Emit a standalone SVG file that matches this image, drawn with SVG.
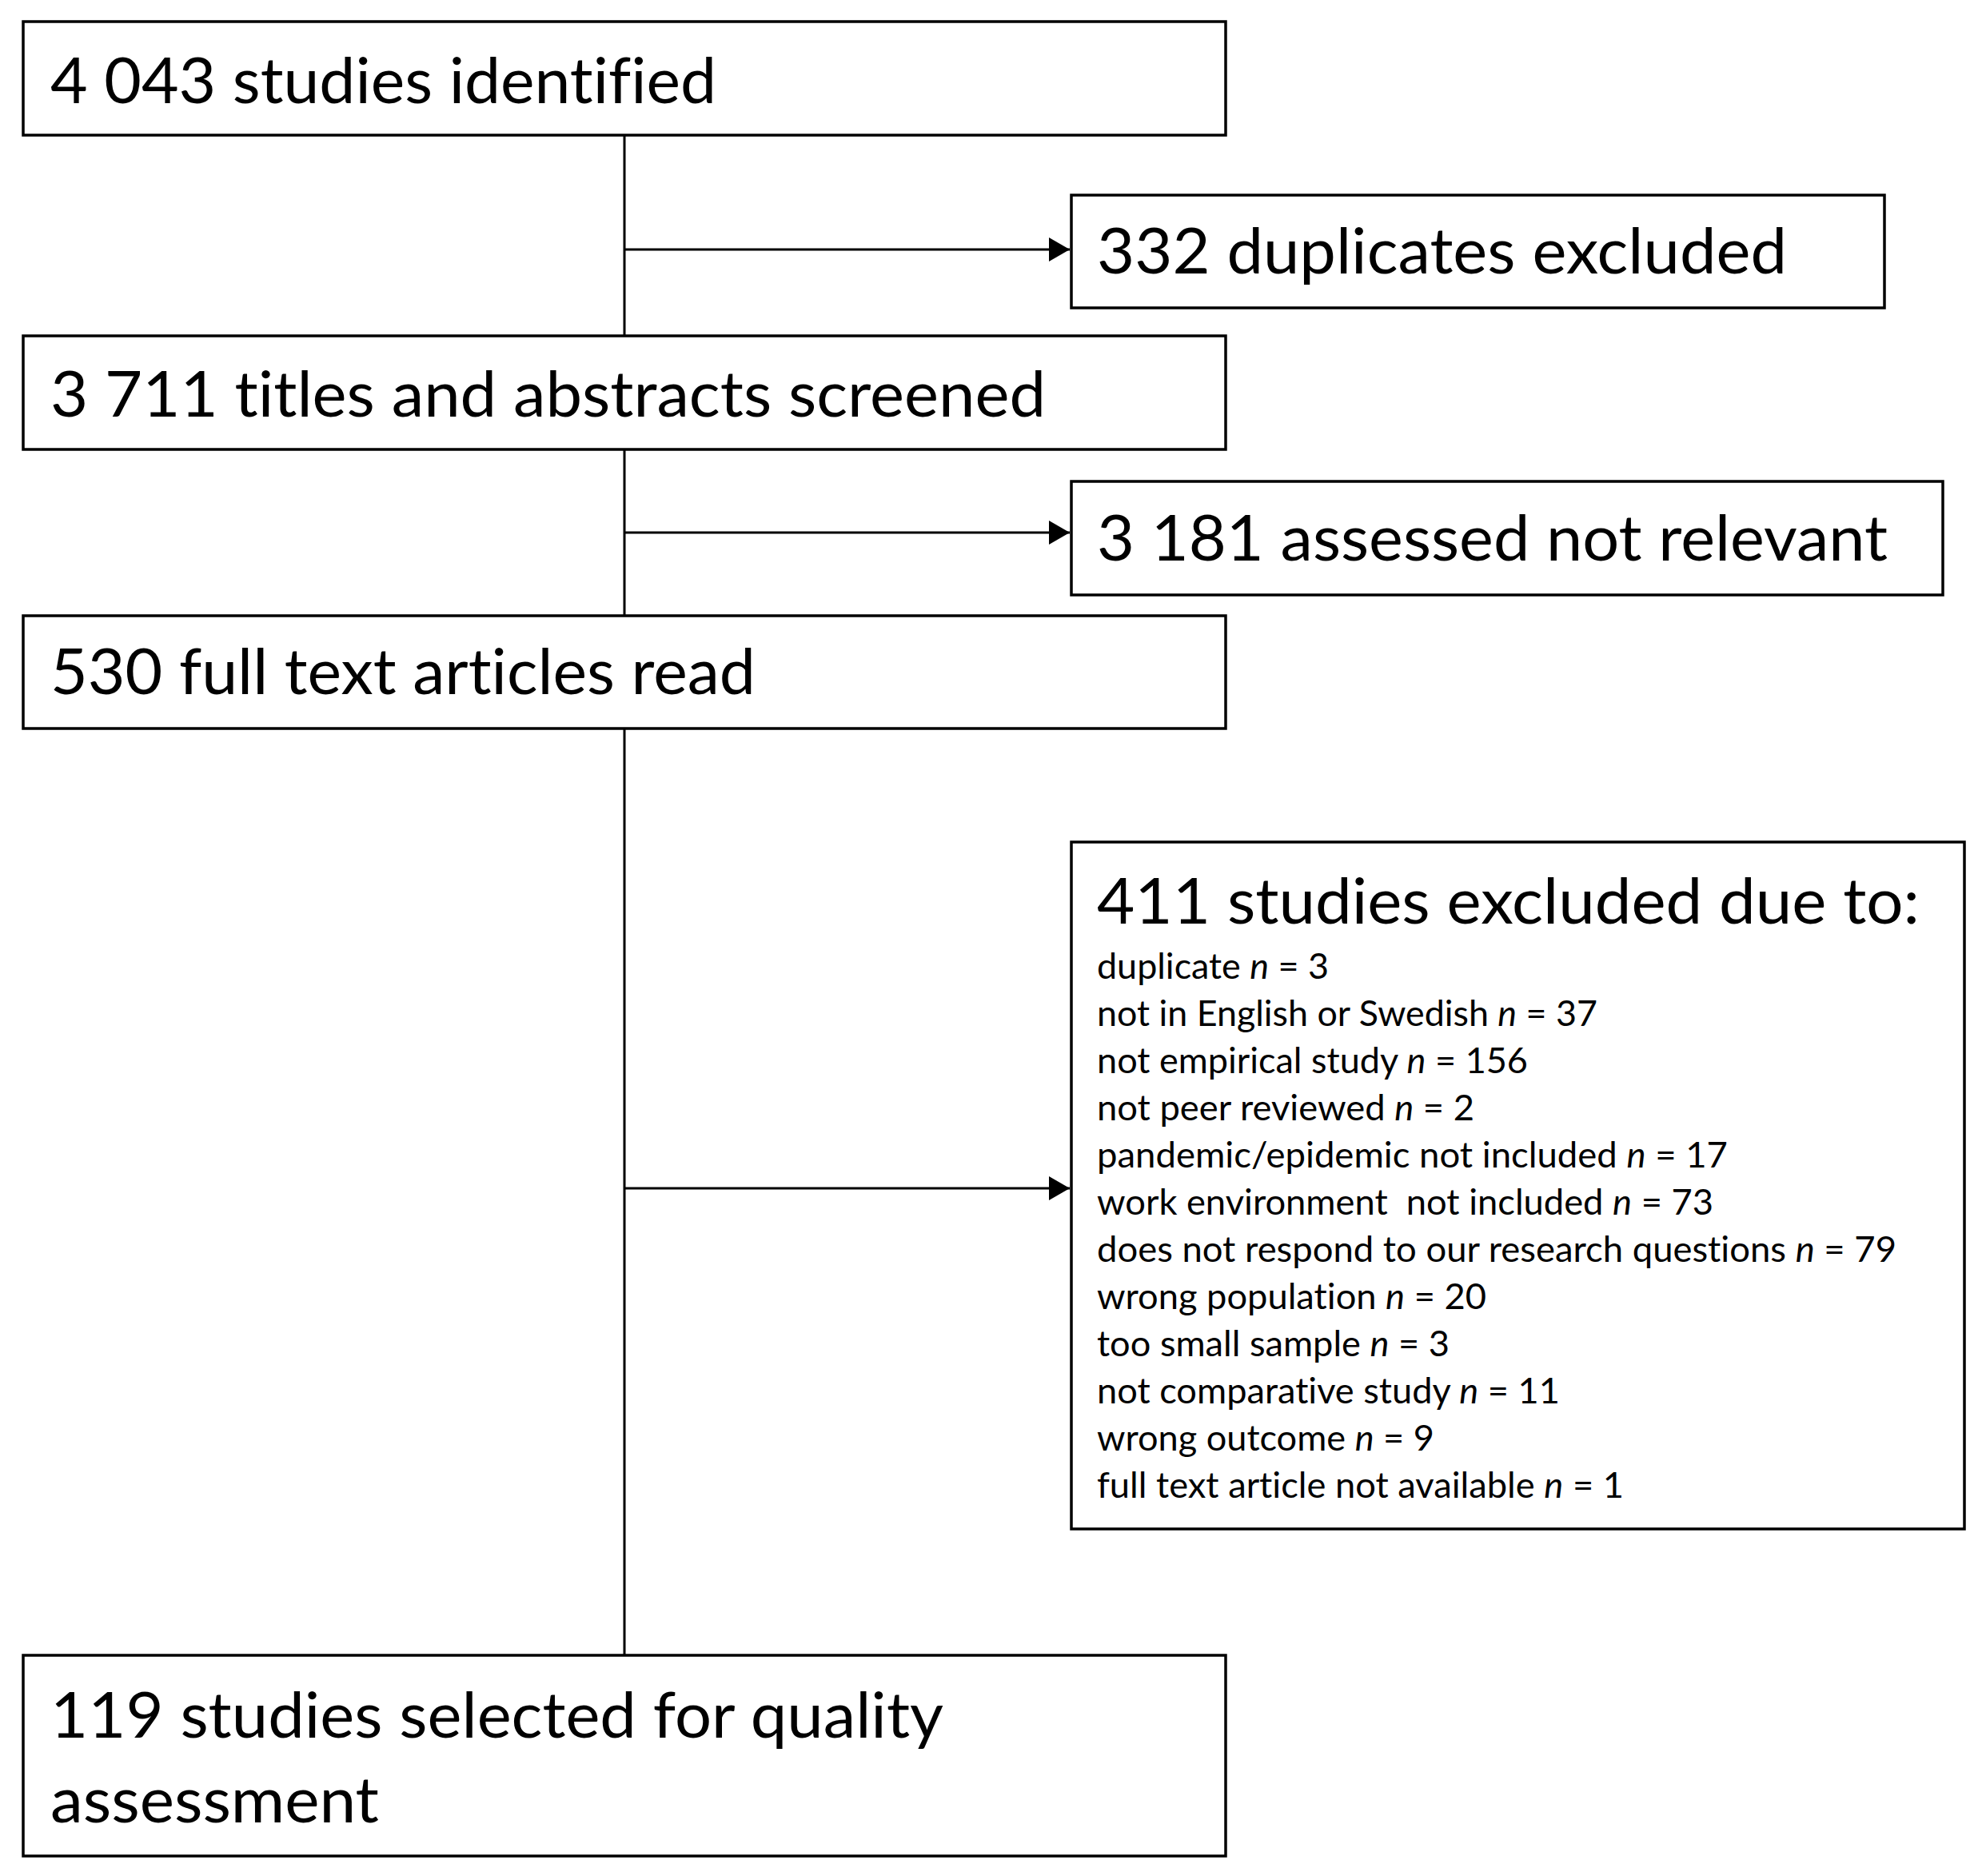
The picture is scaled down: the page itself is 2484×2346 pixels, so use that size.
<svg xmlns="http://www.w3.org/2000/svg" width="2484" height="2346" viewBox="0 0 2484 2346">
<style>
.box{fill:#fff;stroke:#000;stroke-width:3.5}
.big{font-family:Lato,"Open Sans","Liberation Sans",sans-serif;font-size:80px;fill:#000;font-variant-ligatures:none}
.sm{font-family:Lato,"Open Sans","Liberation Sans",sans-serif;font-size:44px;fill:#000;font-variant-ligatures:none}
.it{font-style:italic}
.conn{stroke:#000;stroke-width:3;fill:none}
</style>
<defs>
<marker id="arr" markerUnits="userSpaceOnUse" markerWidth="27" markerHeight="30" refX="26" refY="15" orient="auto">
<path d="M0,0 L26,15 L0,30 z" fill="#000"/>
</marker>
</defs>
<rect width="2484" height="2346" fill="#fff"/>
<g id="connectors">
<line class="conn" x1="781" y1="169" x2="781" y2="2070"/>
<line class="conn" x1="781" y1="312" x2="1338" y2="312" marker-end="url(#arr)"/>
<line class="conn" x1="781" y1="666" x2="1338" y2="666" marker-end="url(#arr)"/>
<line class="conn" x1="781" y1="1486" x2="1338" y2="1486" marker-end="url(#arr)"/>
</g>
<g id="n1">
<rect class="box" x="29" y="27" width="1504" height="142"/>
<text class="big" x="63" y="129" textLength="833" lengthAdjust="spacingAndGlyphs">4 043 studies identified</text>
</g>
<g id="n2">
<rect class="box" x="1340" y="244" width="1017" height="141"/>
<text class="big" x="1372" y="342" textLength="863" lengthAdjust="spacingAndGlyphs">332 duplicates excluded</text>
</g>
<g id="n3">
<rect class="box" x="29" y="420" width="1504" height="142"/>
<text class="big" x="63" y="521" textLength="1245" lengthAdjust="spacingAndGlyphs">3 711 titles and abstracts screened</text>
</g>
<g id="n4">
<rect class="box" x="1340" y="602" width="1090" height="142"/>
<text class="big" x="1372" y="701" textLength="989" lengthAdjust="spacingAndGlyphs">3 181 assessed not relevant</text>
</g>
<g id="n5">
<rect class="box" x="29" y="770" width="1504" height="141"/>
<text class="big" x="63" y="868" textLength="882" lengthAdjust="spacingAndGlyphs">530 full text articles read</text>
</g>
<g id="n6">
<rect class="box" x="1340" y="1053" width="1117" height="859"/>
<text class="big" x="1372" y="1155" textLength="1029" lengthAdjust="spacingAndGlyphs">411 studies excluded due to:</text>
<text class="sm" x="1372" y="1224" textLength="290" lengthAdjust="spacingAndGlyphs">duplicate <tspan class="it">n</tspan> = 3</text>
<text class="sm" x="1372" y="1283" textLength="626" lengthAdjust="spacingAndGlyphs">not in English or Swedish <tspan class="it">n</tspan> = 37</text>
<text class="sm" x="1372" y="1342" textLength="539" lengthAdjust="spacingAndGlyphs">not empirical study <tspan class="it">n</tspan> = 156</text>
<text class="sm" x="1372" y="1401" textLength="472" lengthAdjust="spacingAndGlyphs">not peer reviewed <tspan class="it">n</tspan> = 2</text>
<text class="sm" x="1372" y="1460" textLength="789" lengthAdjust="spacingAndGlyphs">pandemic/epidemic not included <tspan class="it">n</tspan> = 17</text>
<text class="sm" x="1372" y="1519" textLength="771" lengthAdjust="spacingAndGlyphs" xml:space="preserve">work environment  not included <tspan class="it">n</tspan> = 73</text>
<text class="sm" x="1372" y="1578" textLength="1000" lengthAdjust="spacingAndGlyphs">does not respond to our research questions <tspan class="it">n</tspan> = 79</text>
<text class="sm" x="1372" y="1637" textLength="487" lengthAdjust="spacingAndGlyphs">wrong population <tspan class="it">n</tspan> = 20</text>
<text class="sm" x="1372" y="1696" textLength="441" lengthAdjust="spacingAndGlyphs">too small sample <tspan class="it">n</tspan> = 3</text>
<text class="sm" x="1372" y="1755" textLength="579" lengthAdjust="spacingAndGlyphs">not comparative study <tspan class="it">n</tspan> = 11</text>
<text class="sm" x="1372" y="1814" textLength="422" lengthAdjust="spacingAndGlyphs">wrong outcome <tspan class="it">n</tspan> = 9</text>
<text class="sm" x="1372" y="1873" textLength="659" lengthAdjust="spacingAndGlyphs">full text article not available <tspan class="it">n</tspan> = 1</text>
</g>
<g id="n7">
<rect class="box" x="29" y="2070" width="1504" height="251"/>
<text class="big" x="63" y="2173" textLength="1117" lengthAdjust="spacingAndGlyphs">119 studies selected for quality</text>
<text class="big" x="63" y="2279" textLength="411" lengthAdjust="spacingAndGlyphs">assessment</text>
</g>
</svg>
